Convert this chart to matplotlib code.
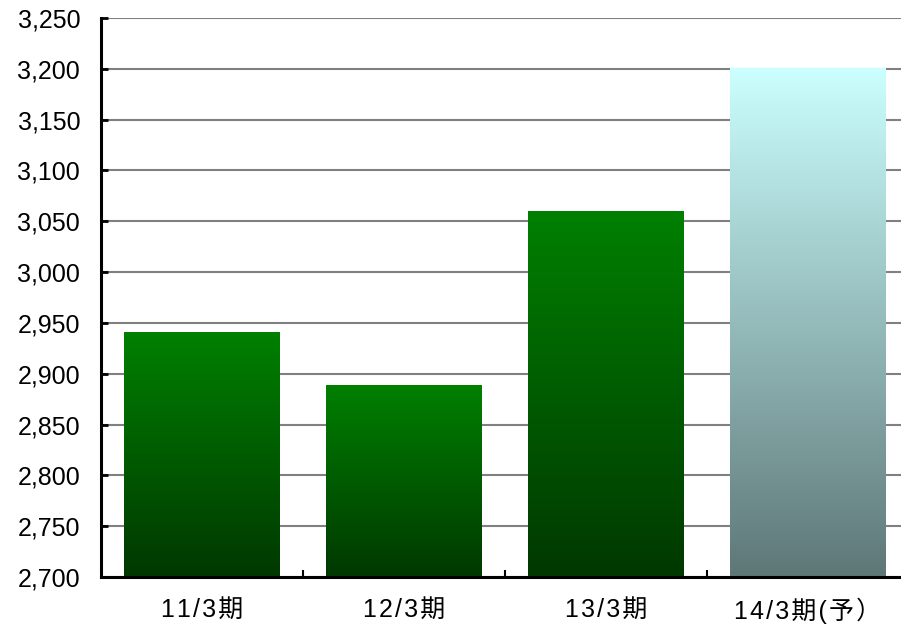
import numpy as np
import matplotlib.pyplot as plt
from matplotlib.colors import LinearSegmentedColormap
from matplotlib.ticker import FuncFormatter

plt.rcParams['font.family'] = ['Liberation Sans', 'Noto Sans CJK JP', 'DejaVu Sans']

periods = ['11/3期', '12/3期', '13/3期', '14/3期(予）']
values = [2941, 2889, 3060, 3201]
# top colour, bottom colour for each bar
tops = ['#008000', '#008000', '#008000', '#CCFFFF']
bottoms = ['#003800', '#003800', '#003800', '#5E7777']

fig = plt.figure(figsize=(9.01, 6.29), dpi=100)
ax = fig.add_axes([0.1121, 0.0827, 0.8968, 0.8887])

ymin, ymax = 2700, 3250
x = np.arange(len(periods))
bars = ax.bar(x, [v - ymin for v in values], bottom=ymin, width=0.77,
              color='none', edgecolor='none', zorder=3)

grad = np.linspace(1, 0, 256).reshape(-1, 1)
for b, top, bot in zip(bars, tops, bottoms):
    cmap = LinearSegmentedColormap.from_list('g', [bot, top])
    x0, y0 = b.get_x(), b.get_y()
    im = ax.imshow(grad, cmap=cmap, aspect='auto', zorder=3,
                   extent=[x0, x0 + b.get_width(), y0, y0 + b.get_height()])
    im.set_clip_path(b)

ax.set_xlim(-0.5, 3.5)
ax.set_ylim(ymin, ymax)
ax.set_yticks(np.arange(ymin, ymax + 1, 50))
ax.yaxis.set_major_formatter(FuncFormatter(lambda v, p: f'{int(v):,}'))
ax.set_xticks(x)
# slight letter spacing like the original
ax.set_xticklabels(['\u200a'.join(p) for p in periods])
ax.set_xticks(np.arange(0.5, 3.5, 1), minor=True)

ax.grid(axis='y', color='#808080', linewidth=1.5, zorder=1)
ax.set_axisbelow(True)
for s in ['top', 'right']:
    ax.spines[s].set_visible(False)
for s in ['left', 'bottom']:
    ax.spines[s].set_linewidth(2.2)
    ax.spines[s].set_zorder(4)

ax.tick_params(axis='y', direction='in', length=5, width=2, pad=15, labelsize=18)
ax.tick_params(axis='x', which='major', length=0, pad=15, labelsize=18)
ax.tick_params(axis='x', which='minor', direction='in', length=5, width=1.5)

fig.savefig('out.png', dpi=100)
